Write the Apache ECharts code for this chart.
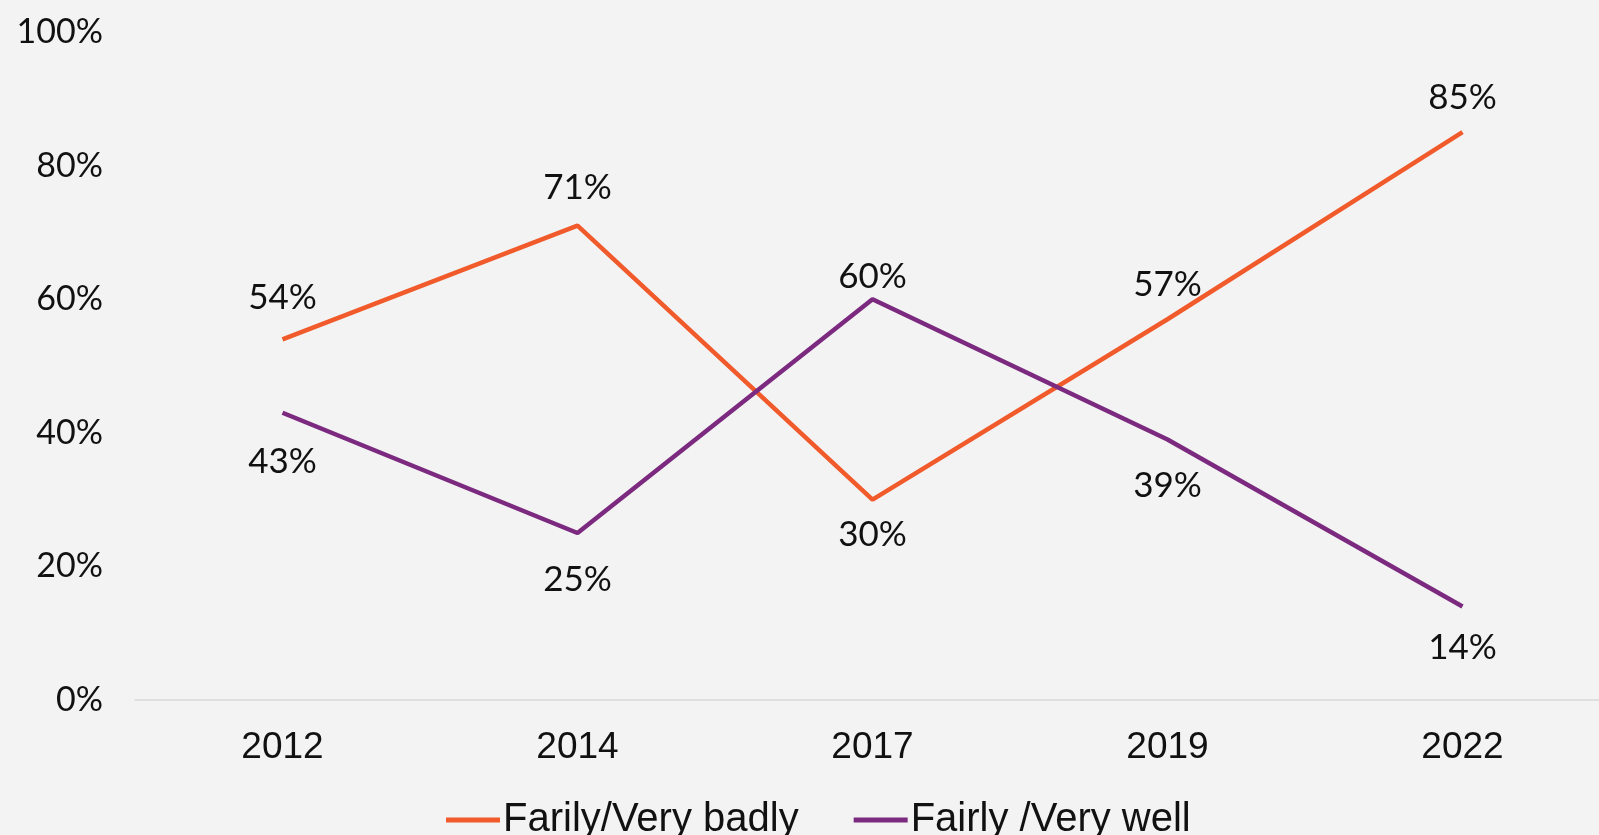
<!DOCTYPE html>
<html>
<head>
<meta charset="utf-8">
<script src="https://cdn.jsdelivr.net/npm/echarts@6/dist/echarts.min.js"></script>
<style>
    html, body { margin: 0; padding: 0; background: #f3f3f3; overflow: hidden; }
    /* a little wider than the window so the last category band can run past the right edge */
    #chart { width: 1620px; height: 835px; }
</style>
</head>
<body>
<div id="chart"></div>
<script>
// categories and values
const years = ['2012', '2014', '2017', '2019', '2022'];
const badly = [54, 71, 30, 57, 85];
const well = [43, 25, 60, 39, 14];
// where each data label sits relative to its point, and how far off
const badlyLabelPos = ['top', 'top', 'bottom', 'top', 'top'];
const badlyLabelGap = [24, 21, 18, 17, 17];
const wellLabelPos = ['bottom', 'bottom', 'top', 'bottom', 'bottom'];
const wellLabelGap = [31, 29, 5, 29, 24];

function withLabels(values, places, gaps) {
    return values.map((v, i) => ({
        value: v,
        label: { position: places[i], distance: gaps[i] }
    }));
}

let chart = echarts.init(document.getElementById('chart'));
let option = {
    backgroundColor: '#f3f3f3',
    animation: false,
    textStyle: { fontFamily: 'Lato', color: '#111' },
    grid: { left: 135, top: 32, width: 1475, height: 668 },
    legend: {
        left: 441,
        top: 795,
        icon: 'rect',
        itemWidth: 54,
        itemHeight: 5,
        itemGap: 55,
        textStyle: { fontFamily: 'Liberation Sans', fontSize: 40, color: '#111', padding: [0, 0, 0, -2] },
        data: ['Farily/Very badly', 'Fairly /Very well']
    },
    xAxis: {
        type: 'category',
        data: years,
        axisLine: { lineStyle: { color: '#d9d9d9', width: 1.5 } },
        axisTick: { show: false },
        axisLabel: { margin: 29, fontFamily: 'Liberation Sans', fontSize: 37, color: '#111' }
    },
    yAxis: {
        type: 'value',
        min: 0,
        max: 100,
        interval: 20,
        splitLine: { show: false },
        axisLine: { show: false },
        axisLabel: { margin: 32, fontFamily: 'Lato', fontSize: 34, color: '#111', formatter: '{value}%' }
    },
    series: [
        {
            name: 'Farily/Very badly',
            type: 'line',
            data: withLabels(badly, badlyLabelPos, badlyLabelGap),
            symbol: 'circle',
            symbolSize: 0,
            color: '#f15a2b',
            lineStyle: { width: 4.5, color: '#f15a2b' },
            label: { show: true, fontFamily: 'Lato', fontSize: 35, color: '#111', formatter: '{c}%' }
        },
        {
            name: 'Fairly /Very well',
            type: 'line',
            data: withLabels(well, wellLabelPos, wellLabelGap),
            symbol: 'circle',
            symbolSize: 0,
            color: '#7b2a7f',
            lineStyle: { width: 4.5, color: '#7b2a7f' },
            label: { show: true, fontFamily: 'Lato', fontSize: 35, color: '#111', formatter: '{c}%' }
        }
    ]
};
chart.setOption(option);
</script>
</body>
</html>
